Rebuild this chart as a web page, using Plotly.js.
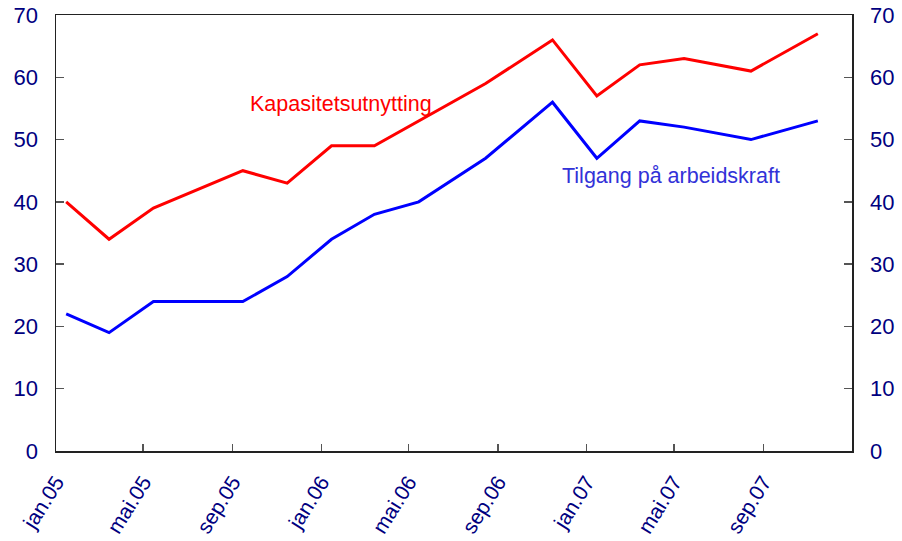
<!DOCTYPE html>
<html>
<head>
<meta charset="utf-8">
<script src="https://cdn.plot.ly/plotly-3.0.1.min.js"></script>
<style>html,body{margin:0;padding:0;background:#fff;}#chart{width:902px;height:541px;}</style>
</head>
<body>
<div id="chart"></div>
<script>
// Survey dates
const dates = ["2005-01-15","2005-03-15","2005-05-15","2005-09-15","2005-11-15",
               "2006-01-15","2006-03-15","2006-05-15","2006-08-15","2006-11-15",
               "2007-01-15","2007-03-15","2007-05-15","2007-08-15","2007-11-15"];
const kapasitetsutnytting = [40,34,39,45,43,49,49,53,59,66,57,62,63,61,67];
const tilgangArbeidskraft = [22,19,24,24,28,34,38,40,47,56,47,53,52,50,53];
const tickDates = ["2005-01-01","2005-05-01","2005-09-01","2006-01-01","2006-05-01",
                   "2006-09-01","2007-01-01","2007-05-01","2007-09-01"];
const tickLabels = ["jan.05","mai.05","sep.05","jan.06","mai.06","sep.06","jan.07","mai.07","sep.07"];
const yTicks = [0,10,20,30,40,50,60,70];

const font = "Liberation Sans, Arial, sans-serif";
const navy = "#000080";

const traces = [
  {x: dates, y: kapasitetsutnytting, type: "scatter", mode: "lines",
   line: {color: "#FF0000", width: 3}, yaxis: "y2", name: "Kapasitetsutnytting"},
  {x: dates, y: tilgangArbeidskraft, type: "scatter", mode: "lines",
   line: {color: "#0000FF", width: 3}, yaxis: "y", name: "Tilgang på arbeidskraft"}
];

const layout = {
  width: 902, height: 541,
  margin: {l: 56, r: 50, t: 15, b: 90},
  paper_bgcolor: "#fff", plot_bgcolor: "#fff",
  showlegend: false,
  font: {family: font, color: navy, size: 22},
  xaxis: {
    type: "date", range: ["2005-01-01","2008-01-01"],
    tickvals: tickDates, ticktext: tickLabels, tickangle: -58,
    ticks: "inside", ticklen: 7, tickcolor: "#555", tickwidth: 1.5,
    showline: true, linecolor: "#222", linewidth: 1.5, mirror: true,
    showgrid: false, zeroline: false, ticklabelstandoff: 9,
    tickfont: {family: font, size: 21, color: navy}
  },
  yaxis: {
    range: [0,70], tickvals: yTicks,
    ticks: "inside", ticklen: 8, tickcolor: "#555", tickwidth: 1.5,
    showline: true, linecolor: "#222", linewidth: 1.5, mirror: true,
    showgrid: false, zeroline: false, ticklabelstandoff: 12,
    tickfont: {family: font, size: 22, color: navy}
  },
  yaxis2: {
    range: [0,70], tickvals: yTicks, overlaying: "y", side: "right",
    ticks: "inside", ticklen: 8, tickcolor: "#555", tickwidth: 1.5,
    showline: true, linecolor: "#222", linewidth: 1.5,
    showgrid: false, zeroline: false, ticklabelstandoff: 12,
    tickfont: {family: font, size: 22, color: navy}
  },
  annotations: [
    {text: "Kapasitetsutnytting", xref: "paper", yref: "y", x: 0.3584, y: 55.7,
     xanchor: "center", yanchor: "middle",
     showarrow: false, font: {family: font, size: 21.5, color: "#FF0000"}},
    {text: "Tilgang på arbeidskraft", xref: "paper", yref: "y", x: 0.773, y: 44.2,
     xanchor: "center", yanchor: "middle",
     showarrow: false, font: {family: font, size: 21.5, color: "#3232D8"}}
  ]
};

Plotly.newPlot("chart", traces, layout, {displayModeBar: false, staticPlot: true});
</script>
</body>
</html>
